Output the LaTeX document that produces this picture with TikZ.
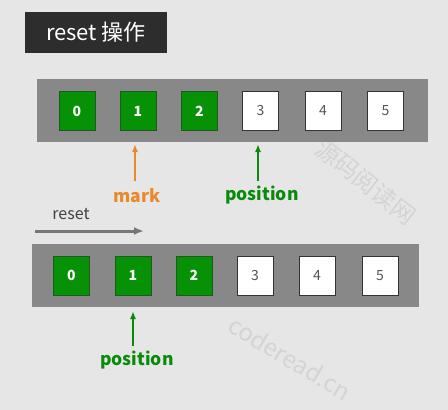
\documentclass[tikz,border=0pt]{standalone}
\usepackage{fontspec}
\setmainfont{Noto Sans CJK SC}
\begin{document}
\begin{tikzpicture}[x=1pt,y=-1pt,
  gbox/.style={draw=gborder,fill=cellg,line width=1pt,minimum width=36pt,minimum height=39pt,inner sep=0pt,text=white,font=\bfseries\fontsize{14}{16}\selectfont},
  wbox/.style={draw=wborder,fill=white,line width=1pt,minimum width=36pt,minimum height=39pt,inner sep=0pt,text=txtg,font=\fontsize{14}{16}\selectfont},
  ptr/.style={-{Latex[length=8pt,width=6pt]},line width=2pt},
  lbl/.style={font=\bfseries\fontsize{17.5}{20}\selectfont,inner sep=0pt},
  wm/.style={text=wmc,font=\fontsize{24}{26}\selectfont}]
\definecolor{bg}{HTML}{E6E6E6}
\definecolor{barg}{HTML}{888888}
\definecolor{cellg}{HTML}{069106}
\definecolor{gborder}{HTML}{1E5A1E}
\definecolor{wborder}{HTML}{333333}
\definecolor{txtg}{HTML}{555555}
\definecolor{orng}{HTML}{E8892A}
\definecolor{grn}{HTML}{0A8A0A}
\definecolor{titlebg}{HTML}{2D2D2D}
\definecolor{arrg}{HTML}{777777}
\definecolor{wmc}{HTML}{D4D4D4}
\usetikzlibrary{arrows.meta}
\fill[bg] (0,0) rectangle (448,410);
\useasboundingbox (0,0) rectangle (448,410);
% watermarks
\node[wm,rotate=-38] (wm1) at (366,182) {源码阅读网};
\node[wm,rotate=-31] (wm2) at (290,358) {coderead.cn};
% title
\node[fill=titlebg,text=white,minimum width=142pt,minimum height=41pt,inner sep=0pt,font=\fontsize{22}{24}\selectfont] (title) at (96,32.5) {reset 操作};
% top bar
\fill[barg] (37,79) rectangle (428,142);
\node[gbox] (t0) at (77,111) {0};
\node[gbox] (t1) at (138,111) {1};
\node[gbox] (t2) at (199.5,111) {2};
\node[wbox] (t3) at (260.5,111) {3};
\node[wbox] (t4) at (323,111) {4};
\node[wbox] (t5) at (385.5,111) {5};
\coordinate (mt) at (135,181);
\coordinate (pt) at (258,181);
\draw[ptr,orng] (mt) -- (135,144);
\draw[ptr,grn] (pt) -- (258,144);
\node[lbl,text=orng] (mark) at (137,196) {mark};
\node[lbl,text=grn] (pos1) at (262,195) {position};
% reset arrow
\node[text=black!75,font=\fontsize{16}{18}\selectfont,inner sep=0pt] (rs) at (71,214) {reset};
\coordinate (ra) at (35,231);
\coordinate (rb) at (144,231);
\draw[-{Latex[length=10pt,width=8pt]},line width=3pt,arrg] (ra) -- (rb);
% bottom bar
\fill[barg] (32,244) rectangle (419,307);
\node[gbox] (b0) at (71.5,275.5) {0};
\node[gbox] (b1) at (133,275.5) {1};
\node[gbox] (b2) at (194,275.5) {2};
\node[wbox] (b3) at (255,275.5) {3};
\node[wbox] (b4) at (317,275.5) {4};
\node[wbox] (b5) at (380,275.5) {5};
\coordinate (bp) at (133,346);
\draw[ptr,grn] (bp) -- (133,311);
\node[lbl,text=grn] (pos2) at (137,360) {position};
\end{tikzpicture}
\end{document}
